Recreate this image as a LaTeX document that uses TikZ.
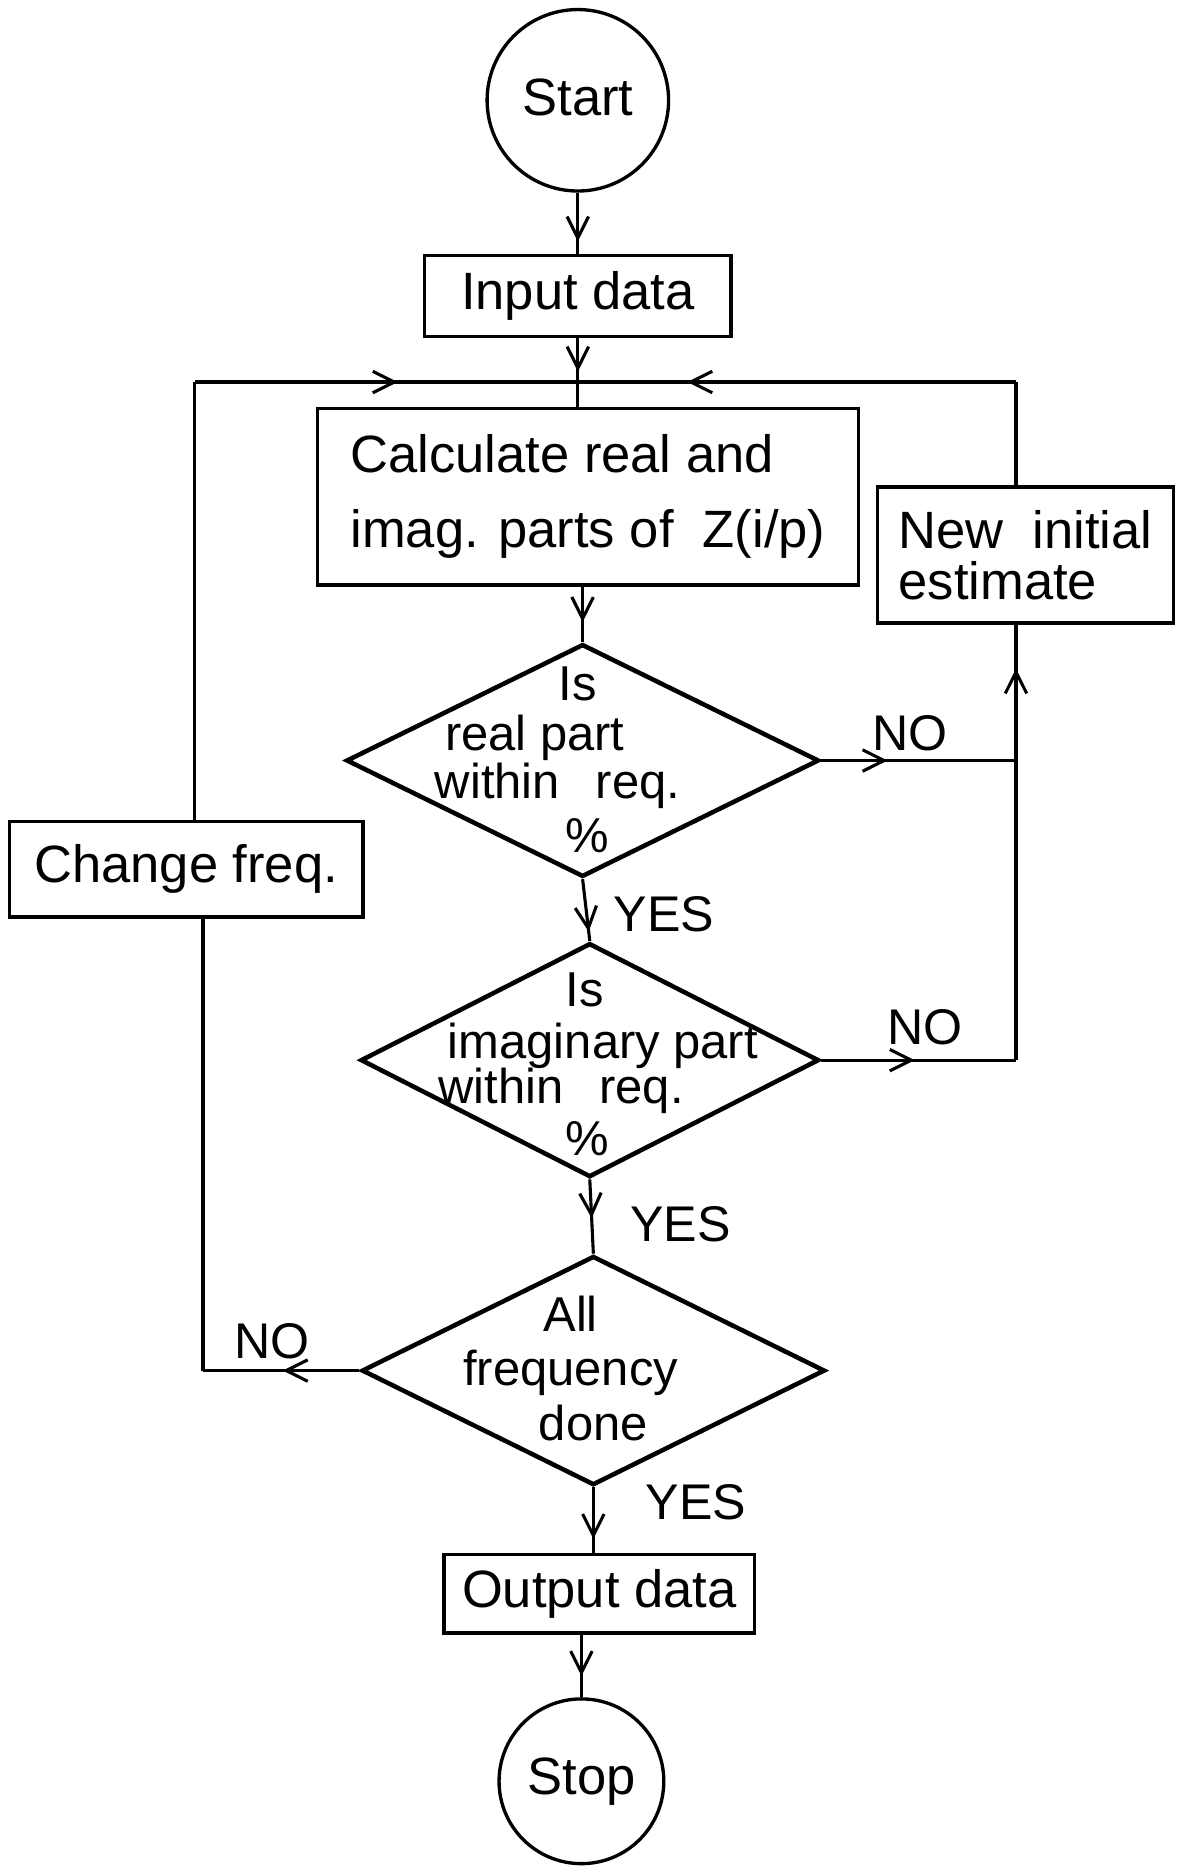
\documentclass[tikz,border=0pt]{standalone}
\usepackage{fontspec}
\setmainfont{Liberation Sans}
\usetikzlibrary{shapes.geometric,arrows.meta,decorations.markings}
\begin{document}
\begin{tikzpicture}[x=1pt,y=-1pt,
  txt/.style={font=\fontsize{44}{50}\selectfont},
  box/.style={draw, line width=3pt, inner sep=0pt, txt},
  term/.style={circle, draw, line width=2.8pt, inner sep=0pt, txt},
  dec/.style={diamond, draw, line width=3.8pt, inner sep=0pt},
  dtxt/.style={inner sep=0pt, font=\fontsize{41}{44}\selectfont},
  lab/.style={inner sep=0pt, font=\fontsize{42}{44}\selectfont},
  flow/.style={line width=2.6pt},
  arrowat/.style={postaction={decorate}, decoration={markings,
      mark=at position #1 with {\arrow{Straight Barb[length=18pt,width=18pt]}}}}]
\useasboundingbox (0,0) rectangle (991,1568);

% terminals and process boxes
\node[term, minimum size=152pt] (start) at (484,84) {\raisebox{5pt}{Start}};
\node[box, minimum width=257pt, minimum height=68pt] (input) at (484,248) {Input data};
\node[box, minimum width=453pt, minimum height=148pt, align=left,
      font=\fontsize{44}{63}\selectfont] (calc) at (492.5,416)
      {Calculate real and\\imag. parts of\ \ Z(i/p)};
\node[box, minimum width=248pt, minimum height=114pt, align=left,
      font=\fontsize{44}{42}\selectfont] (newest) at (859,465)
      {New\ \ initial\\estimate};
\node[box, minimum width=296pt, minimum height=80pt] (change) at (156,728) {Change freq.};
\node[box, minimum width=260pt, minimum height=66pt] (output) at (502,1335) {Output data};
\node[term, minimum size=138pt] (stop) at (487,1492) {Stop};

% decisions
\node[dec, minimum width=396pt, minimum height=195pt] (d1) at (488,637) {};
\node[dtxt] (d1a) at (484,573) {Is};
\node[dtxt] (d1b) at (448,618) {real part};
\node[dtxt] (d1c) at (467,658) {within\hspace{30pt}req.};
\node[dtxt] (d1d) at (492,700) {\%};

\node[dec, minimum width=384pt, minimum height=196pt] (d2) at (494,888) {};
\node[dtxt] (d2a) at (490,829) {Is};
\node[dtxt] (d2b) at (505,876) {imaginary part};
\node[dtxt] (d2c) at (470,914) {within\hspace{30pt}req.};
\node[dtxt] (d2d) at (492,954) {\%};

\node[dec, minimum width=388pt, minimum height=192pt] (d3) at (497,1148) {};
\node[dtxt] (d3a) at (478,1100) {All};
\node[dtxt] (d3b) at (478,1150) {frequency};
\node[dtxt] (d3c) at (497,1192) {done};

% branch labels
\node[lab] (no1) at (762,614) {NO};
\node[lab] (no2) at (775,860) {NO};
\node[lab] (no3) at (228,1123) {NO};
\node[lab] (yes1) at (556,766) {YES};
\node[lab] (yes2) at (570,1025) {YES};
\node[lab] (yes3) at (583,1258) {YES};

% junction points of the loops
\coordinate (jn) at (484,320);
\coordinate (tl) at (163,320);
\coordinate (tr) at (851,320);
\coordinate (lb) at (170,0);
\coordinate (r1) at (d1.east -| tr);
\coordinate (r2) at (d2.east -| tr);
\coordinate (l3) at (d3.west -| lb);

% main flow
\draw[flow,arrowat=0.8] (start) -- (input);
\draw[flow,arrowat=0.76] (input) -- (jn);
\draw[flow] (jn) -- (jn |- calc.north);
\draw[flow,arrowat=0.64] (d1.north |- calc.south) -- (d1.north);
\draw[flow,arrowat=0.85] (d1.south) -- (d2.north);
\draw[flow,arrowat=0.52] (d2.south) -- (d3.north);
\draw[flow,arrowat=0.79] (d3.south) -- (d3.south |- output.north);
\draw[flow,arrowat=0.66] (stop.north |- output.south) -- (stop.north);

% right loop: new initial estimate
\draw[flow,arrowat=0.34] (d1.east) -- (r1);
\draw[flow,arrowat=0.48] (d2.east) -- (r2);
\draw[flow,arrowat=0.9] (r2) -- (r2 |- newest.south);
\draw[flow] (tr |- newest.north) -- (tr);
\draw[flow,arrowat=0.75] (tr) -- (jn);

% left loop: change frequency
\draw[flow,arrowat=0.49] (d3.west) -- (l3);
\draw[flow] (l3) -- (l3 |- change.south);
\draw[flow] (tl |- change.north) -- (tl);
\draw[flow,arrowat=0.53] (tl) -- (jn);
\end{tikzpicture}
\end{document}
